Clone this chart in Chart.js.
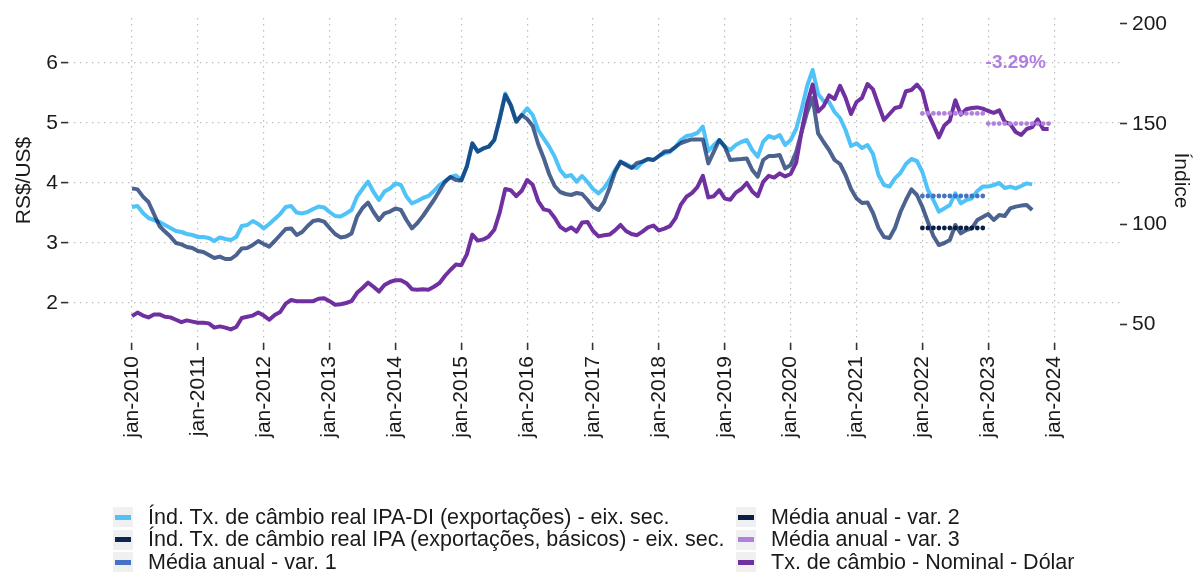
<!DOCTYPE html>
<html>
<head>
<meta charset="utf-8">
<script src="https://cdn.jsdelivr.net/npm/chart.js@4.4.1/dist/chart.umd.min.js"></script>
<style>
  html, body { margin: 0; padding: 0; background: #fff; }
  #wrap { position: relative; width: 1195px; height: 572px; overflow: hidden; }
  #grafico { position: absolute; left: 0; top: 0; }
  #legenda {
    position: absolute; left: 113px; top: 506px;
    display: grid; grid-auto-flow: column;
    grid-template-columns: 623px auto; grid-template-rows: repeat(3, 22.5px);
    font-family: 'Liberation Sans', Arial, sans-serif; font-size: 21.5px; color: #1a1a1a;
  }
  .item { display: flex; align-items: center; white-space: nowrap; }
  .chave { width: 20px; height: 20px; background: #f0f0f0; display: flex; align-items: center; justify-content: center; margin-right: 15px; }
  .chave span { display: block; width: 16px; height: 5px; }
</style>
</head>
<body>
<div id="wrap">
  <canvas id="grafico" width="1195" height="572"></canvas>
  <div id="legenda"></div>
</div>
<script>
const FONTE = "'Liberation Sans', Arial, sans-serif";

// eixo x: um rótulo por janeiro
const anosTicks = [2010, 2011, 2012, 2013, 2014, 2015, 2016, 2017, 2018, 2019, 2020, 2021, 2022, 2023, 2024];
const rotulosX = anosTicks.map(a => 'jan-' + a);
const ticksEsq = [2, 3, 4, 5, 6];
const ticksDir = [50, 100, 150, 200];

// Tx. de câmbio nominal (R$/US$), mensal jan-2010 a dez-2023
const cambioNominal = [
  1.78, 1.84, 1.79, 1.76, 1.81, 1.81, 1.77, 1.76, 1.72, 1.68, 1.71, 1.69,
  1.67, 1.67, 1.66, 1.59, 1.61, 1.59, 1.56, 1.60, 1.75, 1.77, 1.79, 1.84,
  1.79, 1.72, 1.80, 1.85, 1.99, 2.05, 2.03, 2.03, 2.03, 2.03, 2.07, 2.08,
  2.03, 1.97, 1.98, 2.00, 2.03, 2.17, 2.25, 2.34, 2.27, 2.19, 2.30, 2.35,
  2.38, 2.38, 2.33, 2.23, 2.22, 2.23, 2.22, 2.27, 2.33, 2.45, 2.55, 2.64,
  2.63, 2.81, 3.14, 3.04, 3.06, 3.11, 3.22, 3.51, 3.90, 3.88, 3.78, 3.87,
  4.05, 3.97, 3.70, 3.56, 3.54, 3.42, 3.27, 3.21, 3.26, 3.19, 3.34, 3.35,
  3.20, 3.11, 3.13, 3.14, 3.21, 3.30, 3.20, 3.15, 3.13, 3.19, 3.26, 3.29,
  3.21, 3.24, 3.28, 3.41, 3.64, 3.77, 3.83, 3.93, 4.12, 3.76, 3.78, 3.88,
  3.74, 3.72, 3.84, 3.90, 4.00, 3.86, 3.78, 4.02, 4.12, 4.09, 4.16, 4.11,
  4.15, 4.34, 4.87, 5.32, 5.64, 5.19, 5.28, 5.46, 5.40, 5.62, 5.42, 5.15,
  5.35, 5.42, 5.65, 5.56, 5.30, 5.05, 5.15, 5.25, 5.27, 5.53, 5.55, 5.64,
  5.53, 5.17, 4.97, 4.76, 4.96, 5.04, 5.38, 5.14, 5.23, 5.25, 5.26, 5.24,
  5.20, 5.17, 5.21, 5.02, 4.98, 4.85, 4.80, 4.90, 4.93, 5.06, 4.90, 4.90
];

// Índ. câmbio real IPA-DI (exportações), jan-2010 a set-2023
const ipaDiExport = [
  108.5, 109, 105.5, 103, 102, 101, 99.5, 98, 96.5, 96, 95, 94.5,
  93.5, 93.5, 93, 91.5, 93.3, 92.5, 92, 93.5, 99, 99.5, 101.5, 100,
  97.8, 100, 102.5, 105, 108.5, 109, 105.7, 105.3, 106, 107.5, 108.7, 108.3,
  106, 104, 103.7, 105.3, 107, 113.7, 117.5, 121.2, 116, 112, 116.2, 117.8,
  120.3, 119.5, 113.7, 110.3, 111.5, 113, 114, 116.5, 119.5, 121.5, 123.5, 124.3,
  122, 128.7, 140.3, 136.2, 137.8, 138.7, 142, 152.8, 165.3, 159.5, 151.2, 154.5,
  157.8, 154.5, 147, 142.8, 138.7, 133.7, 127, 123.7, 124.5, 121.2, 124, 121,
  117.5, 115.3, 118, 122, 127, 131, 130, 128.5, 128, 131, 132.5, 132,
  134, 135.3, 136, 138.5, 142, 144, 144.5, 145.5, 148.7, 136.5, 139.5, 142,
  138.7, 137, 139.5, 141, 142, 137, 133.7, 141.2, 144, 143, 144.5, 139.5,
  142, 147.5, 157.5, 169, 177, 165, 161.5, 161, 156, 153, 147, 139,
  140.3, 138, 139.5, 135, 124.5, 119.5, 118.7, 122.8, 125.5, 130, 132.5, 131.5,
  126, 117, 112, 106.2, 107.8, 109.5, 115.3, 110.3, 112, 112.8, 116.5, 118.7,
  118.7, 119.5, 120.5, 118, 118.7, 117.8, 119, 120.3, 119.8
];

// Índ. câmbio real IPA (exportações, básicos), jan-2010 a set-2023
const ipaBasicos = [
  117.8, 117.3, 113.7, 111, 105, 99, 96.2, 93.7, 90.5, 89.8, 88.5, 88,
  86.5, 86, 84.5, 83, 83.7, 82.5, 82.5, 84.5, 87.8, 88, 89.5, 91.5,
  90, 88.7, 91.5, 94.5, 97.5, 97.8, 94.5, 96, 99, 101.5, 102, 101.2,
  98, 95, 93.3, 93.7, 95.3, 103.7, 108, 110.7, 106, 102, 105.3, 106.2,
  107.8, 107, 102, 97.8, 100.5, 104, 108, 112, 116.5, 121, 123.5, 122,
  121.7, 128.7, 140.3, 136.2, 137.8, 138.7, 142, 152.8, 164.5, 159.5, 151.2, 154.5,
  152.5, 149, 140, 133, 125, 119, 116, 115, 114.5, 115.5, 115, 112,
  108.5, 107, 111, 118, 126, 131.2, 129.5, 128, 130.5, 131.2, 132.5, 132,
  134, 136.2, 136.5, 138.5, 140.5, 141.5, 142.3, 142.3, 142.3, 130.3, 136.2, 142,
  138.7, 132, 132.3, 132.5, 132.8, 127, 123.7, 132, 134, 134, 134.5, 127.8,
  129.5, 136, 146, 156, 163, 145.3, 141, 137, 132, 130, 124.5, 117.5,
  112.8, 110.5, 110.8, 105.5, 98, 93.5, 93, 98, 106, 112, 117.3, 114.5,
  108.5, 101, 94, 89.5, 90.5, 92, 99.5, 95.3, 97, 97.8, 102, 103.5,
  105, 102, 104.5, 104, 107.8, 108.7, 109.2, 109.5, 107
];

// médias anuais
const anosMedia = [2022];
const mediaVar1 = [114];
const mediaVar2 = [98];
const anosMediaVar3 = [2022, 2023];
const mediaVar3 = [5.16, 4.99];

const variacaoTexto = '-3.29%';
const variacaoPos = { mes: 161, valor: 6.0 };

const rotulos = {
  ipaDi: 'Índ. Tx. de câmbio real IPA-DI (exportações) - eix. sec.',
  ipaBas: 'Índ. Tx. de câmbio real IPA (exportações, básicos) - eix. sec.',
  var1: 'Média anual - var. 1',
  var2: 'Média anual - var. 2',
  var3: 'Média anual - var. 3',
  nominal: 'Tx. de câmbio - Nominal - Dólar'
};
const cores = {
  ipaDi: '#4fc3f7',
  ipaBas: 'rgba(0, 32, 96, 0.7)',
  ipaBasChave: '#0e2452',
  var1: '#4472c4',
  var2: '#0a1f48',
  var3: '#b07fe0',
  nominal: '#7030a0'
};

const mesIndex = (ano, mes) => (ano - 2010) * 12 + mes;
const serie = vals => vals.map((v, i) => ({ x: i, y: v }));
const serieMedia = (anos, vals) =>
  anos.flatMap((a, k) => Array.from({ length: 12 }, (_, m) => ({ x: mesIndex(a, m), y: vals[k] })));

const linha = (label, data, cor, eixo, ordem) => ({
  label, data, yAxisID: eixo, order: ordem,
  borderColor: cor, backgroundColor: cor, borderWidth: 4,
  pointRadius: 0, tension: 0, borderJoinStyle: 'round', fill: false
});
const pontos = (label, data, cor, eixo) => ({
  label, data, yAxisID: eixo, order: 0, showLine: false,
  pointRadius: 2.4, pointBorderWidth: 0, pointBackgroundColor: cor, backgroundColor: cor, borderColor: cor
});

const rotuloVariacao = {
  id: 'rotuloVariacao',
  afterDatasetsDraw(chart) {
    const { ctx, scales } = chart;
    ctx.save();
    ctx.font = `bold 19px ${FONTE}`;
    ctx.fillStyle = cores.var3;
    ctx.textAlign = 'center';
    ctx.textBaseline = 'middle';
    ctx.fillText(variacaoTexto, scales.x.getPixelForValue(variacaoPos.mes), scales.y.getPixelForValue(variacaoPos.valor));
    ctx.restore();
  }
};

const gradeCor = '#bdbdbd';
const tickFonte = { family: FONTE, size: 21 };

new Chart(document.getElementById('grafico'), {
  type: 'line',
  data: {
    datasets: [
      pontos(rotulos.var1, serieMedia(anosMedia, mediaVar1), cores.var1, 'y2'),
      pontos(rotulos.var2, serieMedia(anosMedia, mediaVar2), cores.var2, 'y2'),
      pontos(rotulos.var3, serieMedia(anosMediaVar3, mediaVar3), cores.var3, 'y'),
      linha(rotulos.nominal, serie(cambioNominal), cores.nominal, 'y', 1),
      linha(rotulos.ipaBas, serie(ipaBasicos), cores.ipaBas, 'y2', 2),
      linha(rotulos.ipaDi, serie(ipaDiExport), cores.ipaDi, 'y2', 3)
    ]
  },
  options: {
    responsive: false,
    animation: false,
    layout: { padding: { top: 18, left: 0, right: 0, bottom: 0 } },
    plugins: { legend: { display: false }, tooltip: { enabled: false } },
    scales: {
      x: {
        type: 'linear', min: -11.66, max: 180,
        afterBuildTicks: s => { s.ticks = anosTicks.map(a => ({ value: mesIndex(a, 0) })); },
        afterFit: s => { s.height = 229; },
        ticks: {
          callback: (v, i) => rotulosX[i],
          autoSkip: false, minRotation: 90, maxRotation: 90, padding: 6,
          color: '#1a1a1a', font: tickFonte
        },
        grid: { color: gradeCor, lineWidth: 1.2, tickColor: '#333', tickLength: 7, tickWidth: 1.6, tickBorderDash: [] },
        border: { display: false, dash: [1.4, 4.6] }
      },
      y: {
        position: 'left', min: 1.333, max: 6.75,
        afterBuildTicks: s => { s.ticks = ticksEsq.map(v => ({ value: v })); },
        afterFit: s => { s.width = 68; },
        ticks: { color: '#1a1a1a', font: tickFonte, padding: 3 },
        title: { display: true, text: 'RS$/US$', color: '#1a1a1a', font: { family: FONTE, size: 21 }, padding: { top: 12 } },
        grid: { color: gradeCor, lineWidth: 1.2, tickColor: '#333', tickLength: 7, tickWidth: 1.6, tickBorderDash: [] },
        border: { display: false, dash: [1.4, 4.6] }
      },
      y2: {
        position: 'right', min: 40.5, max: 203,
        afterBuildTicks: s => { s.ticks = ticksDir.map(v => ({ value: v })); },
        afterFit: s => { s.width = 75; },
        ticks: { color: '#1a1a1a', font: tickFonte, padding: 5 },
        title: { display: true, text: 'Índice', color: '#1a1a1a', font: { family: FONTE, size: 21 }, padding: { top: 2 } },
        grid: { drawOnChartArea: false, color: gradeCor, tickColor: '#333', tickLength: 7, tickWidth: 1.6, tickBorderDash: [] },
        border: { display: false }
      }
    }
  },
  plugins: [rotuloVariacao]
});

// legenda em duas colunas (ordem por coluna, como no original)
const itensLegenda = [
  [rotulos.ipaDi, cores.ipaDi],
  [rotulos.ipaBas, cores.ipaBasChave],
  [rotulos.var1, cores.var1],
  [rotulos.var2, cores.var2],
  [rotulos.var3, cores.var3],
  [rotulos.nominal, cores.nominal]
];
const leg = document.getElementById('legenda');
itensLegenda.forEach(([txt, cor]) => {
  const div = document.createElement('div');
  div.className = 'item';
  div.innerHTML = `<div class="chave"><span style="background:${cor}"></span></div><span>${txt}</span>`;
  leg.appendChild(div);
});
</script>
</body>
</html>
